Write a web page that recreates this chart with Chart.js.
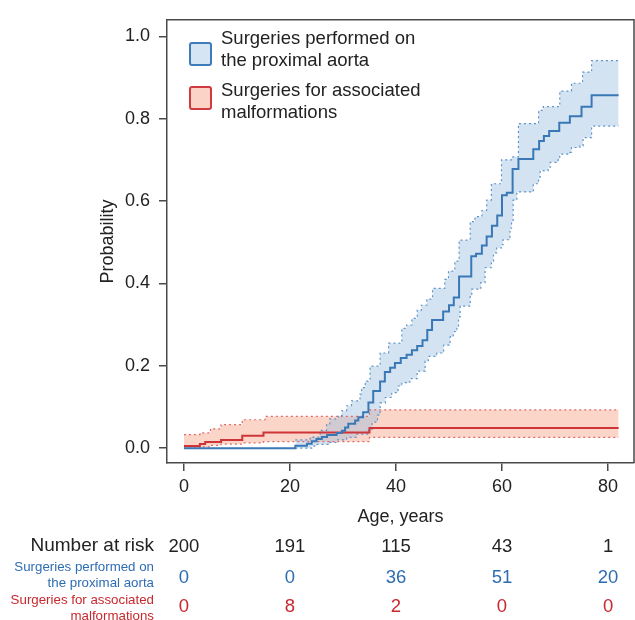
<!DOCTYPE html>
<html><head><meta charset="utf-8">
<script src="https://cdn.jsdelivr.net/npm/chart.js@4/dist/chart.umd.min.js"></script>
<style>html,body{margin:0;padding:0;background:#fff}</style>
</head><body>
<canvas id="c" width="635" height="620" style="width:635px;height:620px;display:block"></canvas>
<script>
// ---- Data ----
const proxAge  = [0,21,23.2,24.1,25,26,27,28.8,29.8,30.4,31,32.3,32.9,33.8,34.8,35.7,37,37.9,38.9,39.8,40.9,42,43,44,45,45.9,46.8,48.9,50,50.9,51.9,54.2,55.1,56.2,57.1,58.1,59.1,60,60.9,62,63.1,65.9,67,67.9,68.9,70.8,72.8,75,76.9,82];
const proxProb = [0,0.006,0.011,0.017,0.022,0.027,0.032,0.037,0.042,0.05,0.059,0.067,0.075,0.087,0.111,0.139,0.162,0.185,0.195,0.207,0.219,0.227,0.238,0.248,0.262,0.287,0.311,0.332,0.347,0.366,0.417,0.466,0.472,0.492,0.514,0.54,0.565,0.614,0.62,0.678,0.702,0.726,0.746,0.758,0.77,0.79,0.806,0.829,0.857,0.857];

const proxUpAge  = [21,23.8,25.7,26.9,27.5,29.1,29.8,30.7,31.6,33.2,33.5,34.2,35.1,37,38.6,41.1,42,43,44,44.8,45.8,46.9,49.2,49.9,51.1,51.9,54,54.9,56.2,57.1,58,59.9,61.8,63.1,66.9,67.8,70.9,73.1,75.2,76.9,82];
const proxUpProb = [0.02,0.027,0.043,0.059,0.071,0.079,0.091,0.103,0.115,0.131,0.147,0.163,0.199,0.231,0.255,0.291,0.299,0.315,0.335,0.347,0.362,0.388,0.41,0.43,0.454,0.505,0.55,0.562,0.577,0.602,0.642,0.7,0.707,0.788,0.82,0.829,0.867,0.886,0.913,0.941,0.941];

const proxLoAge  = [21,24.1,25,27.5,28.8,30.7,32.6,34.8,35.5,36.5,37,38,39.2,40.4,41.1,42.6,44,45.5,46.1,47.7,49,50.2,50.8,51.5,51.8,52.1,54,54.3,56,56.8,58,58.4,59,59.9,60.2,61.5,61.8,62.1,62.8,65.9,66.9,67.2,68.7,69.1,70.6,70.9,72.8,73.1,74.7,75.3,76.9,82];
const proxLoProb = [0,0.005,0.009,0.014,0.02,0.026,0.034,0.043,0.063,0.08,0.11,0.123,0.135,0.151,0.159,0.169,0.187,0.211,0.223,0.231,0.25,0.27,0.283,0.295,0.319,0.345,0.37,0.386,0.402,0.438,0.454,0.474,0.486,0.494,0.506,0.534,0.55,0.602,0.622,0.642,0.658,0.674,0.682,0.694,0.702,0.714,0.718,0.73,0.734,0.754,0.782,0.782];

const malfAge  = [0,3,4,7,11,15,35,82];
const malfProb = [0.005,0.01,0.015,0.02,0.03,0.038,0.049,0.049];
const malfUpAge  = [0,3,5,7,11,15.3,35,82];
const malfUpProb = [0.033,0.037,0.047,0.057,0.069,0.077,0.093,0.093];
const malfLoAge  = [0,3,5,7,11,15,35,82];
const malfLoProb = [0,0.003,0.007,0.01,0.013,0.016,0.026,0.026];

const xTicks = [0,20,40,60,80];
const yTicks = [0,0.2,0.4,0.6,0.8,1.0];

const riskTimes = [0,20,40,60,80];
const riskTotal = [200,191,115,43,1];
const riskProx  = [0,0,36,51,20];
const riskMalf  = [0,8,2,0,0];

const legendProx = ['Surgeries performed on','the proximal aorta'];
const legendMalf = ['Surgeries for associated','malformations'];

// ---- Styles ----
const BLUE = '#3a78b5', BLUE_DOT = '#5e93c9', BLUE_FILL = 'rgba(148,185,220,0.40)';
const RED = '#cf3438', RED_DOT = '#e0686a', RED_FILL = 'rgba(245,150,118,0.40)';
const TXT = '#222', AX = '#4a4a4a';
const FONT = '"Liberation Sans", Arial, Helvetica, sans-serif';

const pts = (xs, ys) => xs.map((x, i) => ({x, y: ys[i]}));

const bandStyle = (col) => ({borderColor: col, borderWidth: 1.2, borderDash: [2, 3], pointRadius: 0, stepped: true});

const data = {
  datasets: [
    Object.assign({label:'proxUp', data: pts(proxUpAge, proxUpProb), fill: '+1', backgroundColor: BLUE_FILL}, bandStyle(BLUE_DOT)),
    Object.assign({label:'proxLo', data: pts(proxLoAge, proxLoProb), fill: false}, bandStyle(BLUE_DOT)),
    Object.assign({label:'malfUp', data: pts(malfUpAge, malfUpProb), fill: '+1', backgroundColor: RED_FILL}, bandStyle(RED_DOT)),
    Object.assign({label:'malfLo', data: pts(malfLoAge, malfLoProb), fill: false}, bandStyle(RED_DOT)),
    {label:'prox', data: pts(proxAge, proxProb), borderColor: BLUE, borderWidth: 2, pointRadius: 0, stepped: true, fill: false, order: -2},
    {label:'malf', data: pts(malfAge, malfProb), borderColor: RED, borderWidth: 2, pointRadius: 0, stepped: true, fill: false, order: -1}
  ]
};

const framePlugin = {
  id: 'frame',
  afterDatasetsDraw(chart) {
    const {ctx, chartArea: a} = chart;
    ctx.save();
    ctx.strokeStyle = AX; ctx.lineWidth = 1.5;
    ctx.beginPath();
    ctx.moveTo(a.left, a.top); ctx.lineTo(a.right, a.top); ctx.lineTo(a.right, a.bottom);
    ctx.stroke();
    ctx.restore();
  }
};

const legendPlugin = {
  id: 'customLegend',
  afterDraw(chart) {
    const {ctx} = chart;
    ctx.save();
    const items = [
      {lines: legendProx, fill: '#d6e5f3', stroke: '#3d7cb9', box: 43, t1: 39, t2: 60.5},
      {lines: legendMalf, fill: '#fbd4c7', stroke: '#d13a3e', box: 87, t1: 91, t2: 112.5}
    ];
    ctx.font = '18.5px ' + FONT;
    ctx.textBaseline = 'middle'; ctx.textAlign = 'left';
    for (const it of items) {
      ctx.fillStyle = it.fill; ctx.strokeStyle = it.stroke; ctx.lineWidth = 2;
      ctx.beginPath();
      if (ctx.roundRect) ctx.roundRect(190, it.box, 21, 22, 2); else ctx.rect(190, it.box, 21, 22);
      ctx.fill(); ctx.stroke();
      ctx.fillStyle = TXT;
      ctx.fillText(it.lines[0], 221, it.t1);
      ctx.fillText(it.lines[1], 221, it.t2);
    }
    ctx.restore();
  }
};

const riskPlugin = {
  id: 'riskTable',
  afterDraw(chart) {
    const {ctx} = chart;
    const xs = chart.scales.x;
    ctx.save();
    ctx.textBaseline = 'middle';
    ctx.textAlign = 'right';
    ctx.fillStyle = TXT; ctx.font = '19px ' + FONT;
    ctx.fillText('Number at risk', 154, 546);
    ctx.font = '13.3px ' + FONT;
    ctx.fillStyle = '#2f6db2';
    ctx.fillText('Surgeries performed on', 154, 567);
    ctx.fillText('the proximal aorta', 154, 583);
    ctx.fillStyle = '#c8282e';
    ctx.fillText('Surgeries for associated', 154, 600);
    ctx.fillText('malformations', 154, 616);
    ctx.textAlign = 'center';
    ctx.font = '18.5px ' + FONT;
    riskTimes.forEach((t, i) => {
      const px = xs.getPixelForValue(t);
      ctx.fillStyle = TXT; ctx.fillText(String(riskTotal[i]), px, 547);
      ctx.fillStyle = '#2f6db2'; ctx.fillText(String(riskProx[i]), px, 578);
      ctx.fillStyle = '#c8282e'; ctx.fillText(String(riskMalf[i]), px, 607);
    });
    ctx.restore();
  }
};

new Chart(document.getElementById('c'), {
  type: 'line',
  data,
  options: {
    responsive: false,
    animation: false,
    events: [],
    layout: {padding: {top: 14, right: 1, bottom: 87, left: 0}},
    plugins: {
      legend: {display: false},
      tooltip: {enabled: false},
      filler: {drawTime: 'beforeDatasetsDraw'}
    },
    scales: {
      x: {
        type: 'linear', min: -3.2, max: 84.9,
        afterBuildTicks: s => { s.ticks = xTicks.map(v => ({value: v})); },
        afterFit: s => { s.height = 70; },
        grid: {drawOnChartArea: false, drawTicks: true, tickLength: 8, color: AX, lineWidth: 1.5},
        border: {display: true, color: AX, width: 1.5},
        ticks: {color: TXT, font: {family: FONT, size: 18}, padding: 5, maxRotation: 0, callback: v => String(v)},
        title: {display: true, text: 'Age, years', color: TXT, font: {family: FONT, size: 18}, padding: {top: 0, bottom: 5}}
      },
      y: {
        type: 'linear', min: -0.036, max: 1.04,
        afterBuildTicks: s => { s.ticks = yTicks.map(v => ({value: v})); },
        afterFit: s => { s.width = 167; },
        grid: {drawOnChartArea: false, drawTicks: true, tickLength: 8, color: AX, lineWidth: 1.5},
        border: {display: true, color: AX, width: 1.5},
        ticks: {color: TXT, font: {family: FONT, size: 18}, padding: 9, callback: v => v.toFixed(1)},
        title: {display: true, text: 'Probability', color: TXT, font: {family: FONT, size: 18}, padding: {top: 97, bottom: 0}}
      }
    }
  },
  plugins: [framePlugin, legendPlugin, riskPlugin]
});
</script>
</body></html>
